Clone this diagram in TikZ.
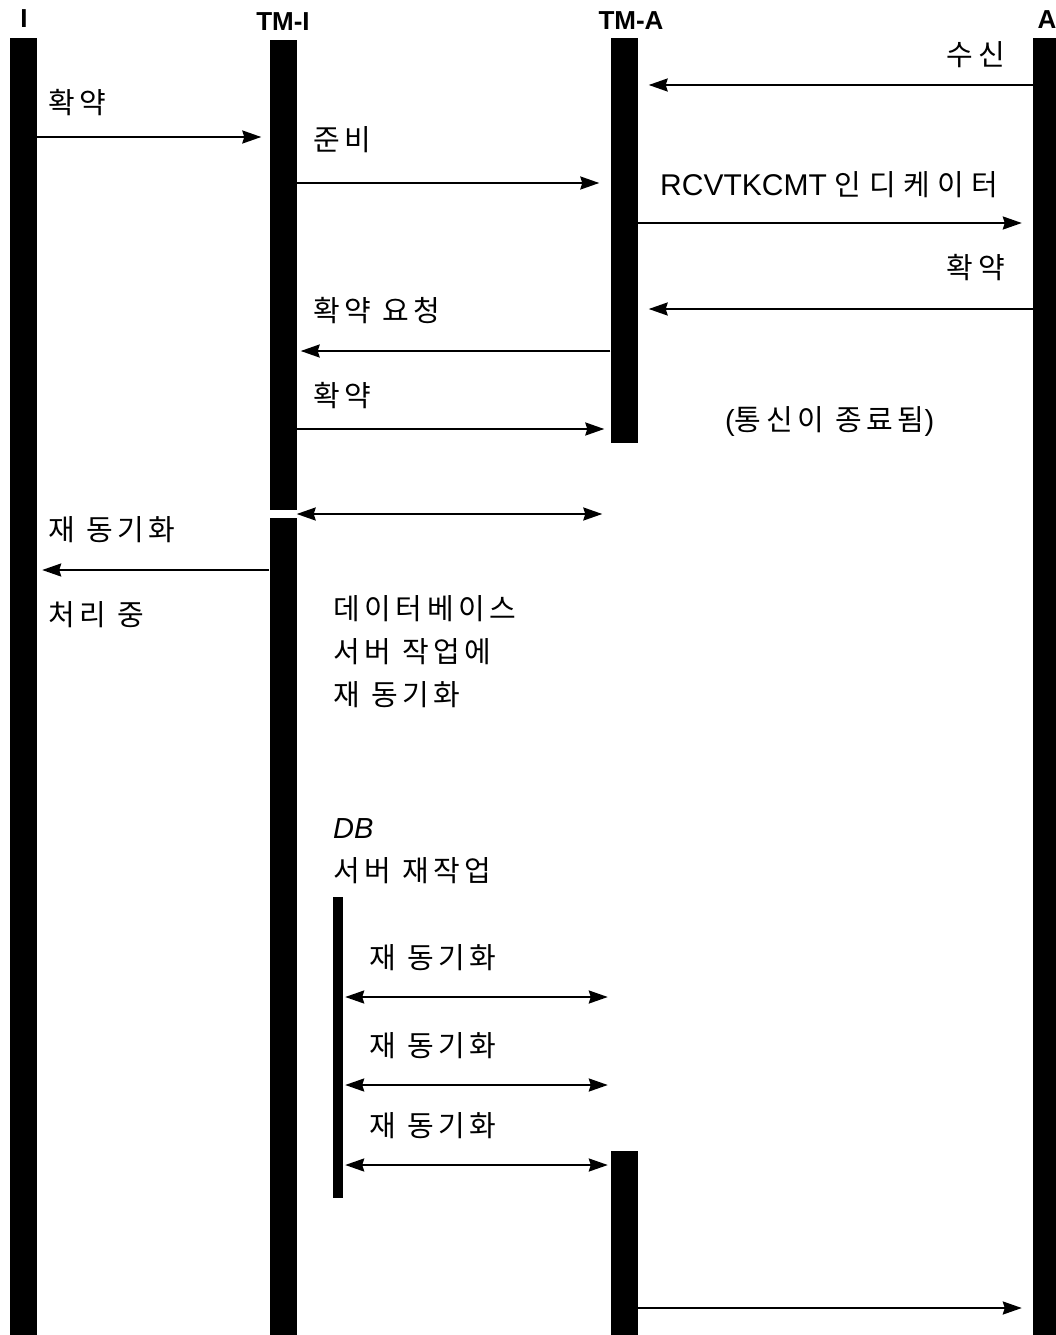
\documentclass[tikz,border=0pt]{standalone}
\usepackage{fontspec}
\setmainfont{Liberation Sans}
\newfontfamily\kr[LetterSpace=16]{Noto Sans CJK KR}
\usetikzlibrary{arrows.meta}

\tikzstyle{lifeline} = [fill=black, inner sep=0pt, minimum width=27pt, anchor=north]
\tikzstyle{header} = [font=\fontsize{26}{26}\selectfont\bfseries, inner sep=0pt]
\tikzstyle{msgtext} = [font=\fontsize{29}{43}\selectfont\kr, inner sep=0pt, anchor=west, align=left]
\tikzstyle{msg} = [draw, line width=2.2pt, -{Stealth[length=19pt,width=13pt,inset=2pt]}, shorten >=11pt]
\tikzstyle{dblmsg} = [draw, line width=2.2pt, {Stealth[length=19pt,width=13pt,inset=2pt]}-{Stealth[length=19pt,width=13pt,inset=2pt]}]

\begin{document}
\begin{tikzpicture}[x=1pt,y=-1pt]
    \useasboundingbox (0,0) rectangle (1055,1335);

    % The lifelines
    \foreach \name/\x/\top/\len in {I/23.5/38/1297, TMI/283/40/470, TMIb/283/518/817, TMA/624/38/405, TMAb/624.5/1151/184, A/1046.5/38/1297}
      \node[lifeline, minimum height=\len pt] (\name) at (\x,\top) {};
    \node[lifeline, minimum width=10pt, minimum height=301pt] (DB) at (338,897) {};

    % The headers
    \foreach \name/\x/\y/\text in {hI/24/19/I, hTMI/283/22/TM-I, hTMA/631/21/TM-A, hA/1047/20/A}
      \node[header] (\name) at (\x,\y) {\text};

    % The labels
    \node[msgtext, anchor=east] (rcv) at (1005,55) {수신};
    \node[msgtext] (cmt1) at (48,103) {확약};
    \node[msgtext] (prep) at (313,140) {준비};
    \node[msgtext] (ind) at (660,185) {{\rmfamily\fontsize{30}{43}\selectfont RCVTKCMT}\hspace{8pt}{\addfontfeature{LetterSpace=26}인디케이터}};
    \node[msgtext, anchor=east] (cmt2) at (1005,268) {확약};
    \node[msgtext] (req) at (313,311) {확약 요청};
    \node[msgtext] (cmt3) at (313,396) {확약};
    \node[msgtext] (ended) at (725,422) {{\rmfamily(}통신이 종료됨{\rmfamily)}};
    \node[msgtext] (resync) at (48,530) {재 동기화};
    \node[msgtext] (busy) at (48,615) {처리 중};
    \node[msgtext] (dbwork) at (333,652) {데이터베이스\\서버 작업에\\재 동기화};
    \node[msgtext] (dbredo) at (333,851) {{\rmfamily\itshape DB}\\서버 재작업};

    % The messages
    \draw[msg] (A.west |- 0,85) -- (TMA.east |- 0,85);
    \draw[msg, shorten >=8pt] (I.east |- 0,137) -- (TMI.west |- 0,137);
    \draw[msg] (TMI.east |- 0,183) -- (TMA.west |- 0,183);
    \draw[msg] (TMA.east |- 0,223) -- (A.west |- 0,223);
    \draw[msg] (A.west |- 0,309) -- (TMA.east |- 0,309);
    \draw[msg, shorten >=4pt] (TMA.west |- 0,351) -- (TMI.east |- 0,351);
    \draw[msg, shorten >=6pt] (TMI.east |- 0,429) -- (TMA.west |- 0,429);
    \draw[dblmsg, shorten >=8pt] (TMI.east |- 0,514) -- (TMA.west |- 0,514);
    \draw[msg, shorten >=5pt] (TMIb.west |- 0,570) -- (I.east |- 0,570);
    \draw[msg] (TMAb.east |- 0,1308) -- (A.west |- 0,1308);

    % The resyncs with the DB server
    \foreach \i/\y in {1/997, 2/1085, 3/1165} {
      \node[msgtext] (rs\i) at (369,\y-39) {재 동기화};
      \draw[dblmsg, shorten <=2pt, shorten >=3pt] (DB.east |- 0,\y) -- (TMAb.west |- 0,\y);
    }

\end{tikzpicture}
\end{document}
